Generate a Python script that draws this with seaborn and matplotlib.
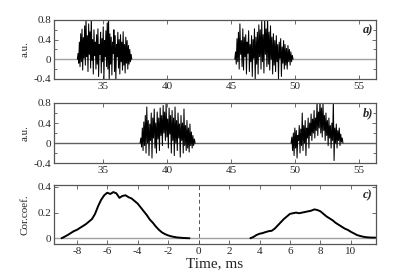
import numpy as np
import matplotlib
matplotlib.use("Agg")
import matplotlib.pyplot as plt
import seaborn as sns

# burst spans (ms) and sampled amplitudes (a.u.)
a1_span = (33.0, 37.25)
a1_vals = [0.0, 0.12, -0.08, 0.35, -0.15, 0.52, -0.05, 0.61, -0.22, 0.44, 0.02, 0.68, -0.12, 0.85, 0.05,
           0.48, -0.25, 0.72, 0.1, 0.56, -0.18, 0.88, -0.02, 0.4, -0.3, 0.6, 0.08, 0.35, -0.2, 0.5, -0.1,
           0.62, -0.35, 0.3, 0.1, 0.55, -0.28, 0.42, -0.05, 0.66, -0.42, 0.38, 0.05, 0.58, -0.15, 0.74,
           -0.2, 0.9, -0.45, 0.52, -0.1, 0.45, -0.32, 0.35, 0.12, 0.6, -0.25, 0.48, -0.42, 0.3, 0.05, 0.55,
           -0.18, 0.4, -0.3, 0.5, -0.05, 0.35, -0.22, 0.56, -0.12, 0.3, -0.28, 0.45, -0.08, 0.38, -0.2,
           0.28, -0.1, 0.2, -0.05, 0.1, 0.0]
a2_span = (45.3, 49.85)
a2_vals = [0.0, 0.15, -0.1, 0.42, -0.05, 0.55, -0.2, 0.72, 0.1, 0.38, -0.15, 0.62, -0.22, 0.45, 0.05, 0.5,
           -0.3, 0.35, 0.12, 0.58, -0.25, 0.3, -0.05, 0.48, -0.35, 0.4, 0.02, 0.62, -0.42, 0.45, -0.1, 0.55,
           -0.3, 0.7, 0.05, 0.6, -0.2, 0.78, -0.05, 0.5, -0.28, 0.85, 0.1, 0.62, -0.15, 0.9, -0.1, 0.55,
           -0.22, 0.68, 0.0, 0.45, -0.3, 0.52, -0.12, 0.38, -0.25, 0.48, -0.05, 0.3, -0.4, 0.35, 0.02, 0.42,
           -0.35, 0.25, -0.08, 0.38, -0.2, 0.3, -0.12, 0.22, -0.2, 0.28, -0.05, 0.2, -0.12, 0.15, -0.05,
           0.08, 0.0]
b1_span = (37.9, 42.2)
b1_vals = [0.0, 0.1, -0.08, 0.3, -0.15, 0.42, -0.05, 0.55, -0.2, 0.72, 0.0, 0.45, -0.25, 0.38, 0.05, 0.6,
           -0.3, 0.5, 0.1, 0.68, -0.1, 0.4, -0.2, 0.62, 0.08, 0.5, -0.15, 0.7, 0.15, 0.55, -0.05, 0.75, 0.2,
           0.62, 0.05, 0.78, 0.12, 0.48, -0.1, 0.7, 0.18, 0.55, -0.2, 0.65, 0.05, 0.5, -0.25, 0.72, 0.0,
           0.45, -0.15, 0.6, 0.1, 0.38, -0.28, 0.55, 0.05, 0.4, -0.2, 0.68, -0.05, 0.35, -0.15, 0.45, -0.1,
           0.3, -0.18, 0.38, -0.05, 0.22, -0.1, 0.15, -0.05, 0.08, 0.0]
b2_span = (49.7, 53.75)
b2_vals = [0.0, 0.12, -0.15, 0.2, -0.25, 0.3, -0.1, 0.25, -0.3, 0.15, 0.05, 0.35, -0.2, 0.28, -0.05, 0.6,
           -0.15, 0.35, 0.0, 0.45, -0.25, 0.3, 0.1, 0.5, -0.1, 0.4, 0.15, 0.58, 0.05, 0.48, 0.2, 0.65, 0.1,
           0.5, 0.25, 0.85, 0.15, 0.62, 0.3, 0.9, 0.2, 0.7, 0.12, 0.82, 0.25, 0.55, 0.05, 0.6, 0.15, 0.45,
           -0.05, 0.5, 0.1, 0.35, -0.1, 0.4, 0.05, 0.85, -0.35, 0.3, 0.0, 0.38, -0.1, 0.25, 0.05, 0.3, -0.05,
           0.18, 0.02, 0.1, 0.0]

# cross-correlation, sampled every 0.2 ms
c_step = 0.2
c_left_start = -9.0
c_left = [0.0, 0.012, 0.025, 0.04, 0.055, 0.065, 0.08, 0.095, 0.11, 0.13, 0.15, 0.19, 0.25, 0.3, 0.335,
          0.355, 0.345, 0.36, 0.35, 0.315, 0.33, 0.335, 0.32, 0.31, 0.29, 0.27, 0.24, 0.21, 0.18, 0.145,
          0.12, 0.09, 0.065, 0.045, 0.032, 0.022, 0.015, 0.01, 0.006, 0.004, 0.002, 0.001, 0.0]
c_right_start = 3.4
c_right = [0.0, 0.01, 0.025, 0.035, 0.04, 0.048, 0.055, 0.058, 0.075, 0.1, 0.125, 0.15, 0.17, 0.19, 0.195,
           0.2, 0.195, 0.2, 0.205, 0.21, 0.215, 0.225, 0.22, 0.21, 0.19, 0.17, 0.155, 0.14, 0.12, 0.105,
           0.09, 0.075, 0.065, 0.05, 0.038, 0.025, 0.018, 0.012, 0.008, 0.006, 0.005, 0.005]

sig_xticks = [35, 40, 45, 50, 55]
sig_yticks = [-0.4, 0, 0.4, 0.8]
sig_ylabels = ['-0.4', '0', '0.4', '0.8']
c_xticks = [-8, -6, -4, -2, 0, 2, 4, 6, 8, 10]
c_yticks = [0, 0.2, 0.4]
c_ylabels = ['0', '0.2', '0.4']

sns.set_theme(style='ticks')
plt.rcParams['font.family'] = ['Liberation Serif', 'DejaVu Serif']
plt.rcParams['axes.unicode_minus'] = False

fig = plt.figure(figsize=(4.15, 2.75), dpi=100)
ax_a = fig.add_axes([0.130, 0.713, 0.776, 0.2145])
ax_b = fig.add_axes([0.130, 0.407, 0.776, 0.2185])
ax_c = fig.add_axes([0.130, 0.1127, 0.776, 0.2145])


def style(ax, xticks, yticks, ylabels, tag):
    ax.set_xticks(xticks)
    ax.set_xticklabels([str(t) for t in xticks])
    ax.set_yticks(yticks)
    ax.set_yticklabels(ylabels)
    ax.tick_params(direction='in', top=True, right=True, labelsize=8, length=3, width=0.6,
                   color='#555555', pad=2)
    ax.tick_params(which='minor', direction='in', top=True, right=True, length=2, width=0.6, color='#555555')
    for s in ax.spines.values():
        s.set_linewidth(0.9)
        s.set_color('#555555')
    ax.text(0.99, 0.83, tag, transform=ax.transAxes, ha='right', va='center',
            fontsize=9, fontweight='bold', fontstyle='italic')


for ax, bursts, base in [(ax_a, [(a1_span, a1_vals), (a2_span, a2_vals)], '#a0a0a0'),
                         (ax_b, [(b1_span, b1_vals), (b2_span, b2_vals)], '#606060')]:
    ax.axhline(0, color=base, lw=1.0, zorder=1)
    for span, vals in bursts:
        t = np.linspace(span[0], span[1], len(vals))
        sns.lineplot(x=t, y=vals, ax=ax, color='black', lw=0.75, sort=False, estimator=None)
    ax.set_xlim(31.17, 56.33)
    ax.set_ylim(-0.4, 0.8)
    ax.set_yticks([-0.2, 0.2, 0.6], minor=True)
    ax.set_xlabel('')
    ax.set_ylabel('a.u.', fontsize=8)
    ax.yaxis.set_label_coords(-0.075, 0.5)

style(ax_a, sig_xticks, sig_yticks, sig_ylabels, 'a)')
style(ax_b, sig_xticks, sig_yticks, sig_ylabels, 'b)')

ax_c.axhline(0, color='#a0a0a0', lw=1.0, zorder=1)
ax_c.axvline(0, color='#555555', lw=0.7, ls=(0, (4, 3)))
tl = c_left_start + c_step * np.arange(len(c_left))
tr = c_right_start + c_step * np.arange(len(c_right))
sns.lineplot(x=tl, y=c_left, ax=ax_c, color='black', lw=1.4, sort=False, estimator=None)
sns.lineplot(x=tr, y=c_right, ax=ax_c, color='black', lw=1.4, sort=False, estimator=None)
ax_c.set_xlim(-9.5, 11.65)
ax_c.set_ylim(-0.045, 0.415)
style(ax_c, c_xticks, c_yticks, c_ylabels, 'c)')
ax_c.set_ylabel('Cor.coef.', fontsize=8)
ax_c.yaxis.set_label_coords(-0.075, 0.5)
ax_c.set_xlabel('Time, ms', fontsize=11, labelpad=1)

fig.savefig('out.png', dpi=100)
